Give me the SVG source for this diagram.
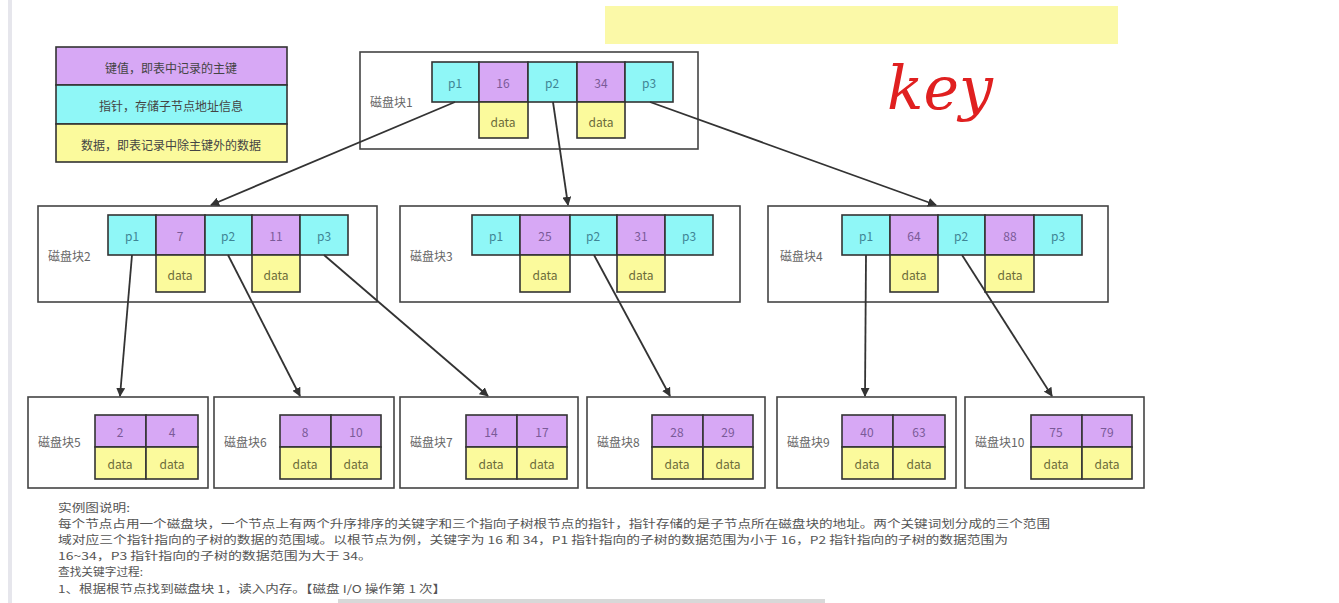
<svg xmlns="http://www.w3.org/2000/svg" width="1339" height="603" viewBox="0 0 1339 603">
<style>
.box{fill:#fff;stroke:#444;stroke-width:1.6}
.p{fill:#8ff7f7;stroke:#333;stroke-width:1.6}
.k{fill:#d7a8f5;stroke:#333;stroke-width:1.6}
.d{fill:#fbfa9c;stroke:#333;stroke-width:1.6}
text{font-family:"Noto Sans CJK SC","Noto Sans",sans-serif;font-size:12px;text-anchor:middle;dominant-baseline:central}
.tp{fill:#3f8595}
.tk{fill:#7a5a98}
.td{fill:#6b6b3a}
.lbl{fill:#666;text-anchor:start;font-size:12px}
.lg{fill:#444;font-size:12px}
.note{fill:#555;text-anchor:start;font-size:11px;dominant-baseline:auto}
.arr{stroke:#333;stroke-width:1.8;fill:none;marker-end:url(#ah)}
</style>
<defs>
<marker id="ah" viewBox="0 0 10 10" refX="9" refY="5" markerWidth="9" markerHeight="9" orient="auto" markerUnits="userSpaceOnUse">
<path d="M0,0 L10,5 L0,10 z" fill="#333"/>
</marker>
</defs>
<rect x="0" y="0" width="1339" height="603" fill="#fff"/>
<rect x="8" y="0" width="4" height="603" fill="#e6e6ec"/>
<rect x="605" y="6" width="513" height="38" fill="#fbf9a8"/>
<text x="940" y="88" style="fill:#e02020;font-family:'DejaVu Serif',serif;font-style:italic;font-size:60px;text-anchor:middle">key</text>

<g id="legend">
<rect x="56" y="47" width="231" height="38" class="k"/>
<rect x="56" y="85" width="231" height="39" class="p"/>
<rect x="56" y="124" width="231" height="38" class="d"/>
<text x="171" y="67" class="lg">键值，即表中记录的主键</text>
<text x="171" y="105" class="lg">指针，存储子节点地址信息</text>
<text x="171" y="144" class="lg">数据，即表记录中除主键外的数据</text>
</g>

<g id="block1">
<rect x="360" y="52" width="338" height="97" class="box"/>
<text x="370" y="101" class="lbl">磁盘块1</text>
<rect x="432" y="62" width="47" height="40" class="p"/><text x="455" y="82" class="tp">p1</text>
<rect x="479" y="62" width="49" height="40" class="k"/><text x="503" y="82" class="tk">16</text>
<rect x="528" y="62" width="49" height="40" class="p"/><text x="552" y="82" class="tp">p2</text>
<rect x="577" y="62" width="48" height="40" class="k"/><text x="601" y="82" class="tk">34</text>
<rect x="625" y="62" width="48" height="40" class="p"/><text x="649" y="82" class="tp">p3</text>
<rect x="479" y="102" width="49" height="36" class="d"/><text x="503" y="121" class="td">data</text>
<rect x="577" y="102" width="48" height="36" class="d"/><text x="601" y="121" class="td">data</text>
</g>

<g id="block2">
<rect x="38" y="206" width="339" height="96" class="box"/>
<text x="48" y="255" class="lbl">磁盘块2</text>
<rect x="108" y="215" width="48" height="40" class="p"/><text x="132" y="235" class="tp">p1</text>
<rect x="156" y="215" width="49" height="40" class="k"/><text x="180" y="235" class="tk">7</text>
<rect x="205" y="215" width="47" height="40" class="p"/><text x="228" y="235" class="tp">p2</text>
<rect x="252" y="215" width="48" height="40" class="k"/><text x="276" y="235" class="tk">11</text>
<rect x="300" y="215" width="48" height="40" class="p"/><text x="324" y="235" class="tp">p3</text>
<rect x="156" y="255" width="49" height="37" class="d"/><text x="180" y="274" class="td">data</text>
<rect x="252" y="255" width="48" height="37" class="d"/><text x="276" y="274" class="td">data</text>
</g>

<g id="block3">
<rect x="400" y="206" width="340" height="96" class="box"/>
<text x="410" y="255" class="lbl">磁盘块3</text>
<rect x="472" y="215" width="48" height="40" class="p"/><text x="496" y="235" class="tp">p1</text>
<rect x="520" y="215" width="50" height="40" class="k"/><text x="545" y="235" class="tk">25</text>
<rect x="570" y="215" width="47" height="40" class="p"/><text x="593" y="235" class="tp">p2</text>
<rect x="617" y="215" width="48" height="40" class="k"/><text x="641" y="235" class="tk">31</text>
<rect x="665" y="215" width="48" height="40" class="p"/><text x="689" y="235" class="tp">p3</text>
<rect x="520" y="255" width="50" height="37" class="d"/><text x="545" y="274" class="td">data</text>
<rect x="617" y="255" width="48" height="37" class="d"/><text x="641" y="274" class="td">data</text>
</g>

<g id="block4">
<rect x="768" y="206" width="340" height="96" class="box"/>
<text x="780" y="255" class="lbl">磁盘块4</text>
<rect x="842" y="215" width="48" height="40" class="p"/><text x="866" y="235" class="tp">p1</text>
<rect x="890" y="215" width="48" height="40" class="k"/><text x="914" y="235" class="tk">64</text>
<rect x="938" y="215" width="47" height="40" class="p"/><text x="961" y="235" class="tp">p2</text>
<rect x="985" y="215" width="49" height="40" class="k"/><text x="1010" y="235" class="tk">88</text>
<rect x="1034" y="215" width="48" height="40" class="p"/><text x="1058" y="235" class="tp">p3</text>
<rect x="890" y="255" width="48" height="37" class="d"/><text x="914" y="274" class="td">data</text>
<rect x="985" y="255" width="49" height="37" class="d"/><text x="1010" y="274" class="td">data</text>
</g>

<g id="block5">
<rect x="28" y="397" width="180" height="91" class="box"/>
<text x="38" y="441" class="lbl">磁盘块5</text>
<rect x="95" y="415" width="51" height="32" class="k"/><text x="120" y="431" class="tk">2</text>
<rect x="146" y="415" width="52" height="32" class="k"/><text x="172" y="431" class="tk">4</text>
<rect x="95" y="447" width="51" height="32" class="d"/><text x="120" y="463" class="td">data</text>
<rect x="146" y="447" width="52" height="32" class="d"/><text x="172" y="463" class="td">data</text>
</g>

<g id="block6">
<rect x="214" y="397" width="180" height="91" class="box"/>
<text x="224" y="441" class="lbl">磁盘块6</text>
<rect x="280" y="415" width="51" height="32" class="k"/><text x="305" y="431" class="tk">8</text>
<rect x="331" y="415" width="50" height="32" class="k"/><text x="356" y="431" class="tk">10</text>
<rect x="280" y="447" width="51" height="32" class="d"/><text x="305" y="463" class="td">data</text>
<rect x="331" y="447" width="50" height="32" class="d"/><text x="356" y="463" class="td">data</text>
</g>

<g id="block7">
<rect x="400" y="397" width="178" height="91" class="box"/>
<text x="410" y="441" class="lbl">磁盘块7</text>
<rect x="466" y="415" width="51" height="32" class="k"/><text x="491" y="431" class="tk">14</text>
<rect x="517" y="415" width="50" height="32" class="k"/><text x="542" y="431" class="tk">17</text>
<rect x="466" y="447" width="51" height="32" class="d"/><text x="491" y="463" class="td">data</text>
<rect x="517" y="447" width="50" height="32" class="d"/><text x="542" y="463" class="td">data</text>
</g>

<g id="block8">
<rect x="587" y="397" width="178" height="91" class="box"/>
<text x="597" y="441" class="lbl">磁盘块8</text>
<rect x="652" y="415" width="51" height="32" class="k"/><text x="677" y="431" class="tk">28</text>
<rect x="703" y="415" width="50" height="32" class="k"/><text x="728" y="431" class="tk">29</text>
<rect x="652" y="447" width="51" height="32" class="d"/><text x="677" y="463" class="td">data</text>
<rect x="703" y="447" width="50" height="32" class="d"/><text x="728" y="463" class="td">data</text>
</g>

<g id="block9">
<rect x="777" y="397" width="179" height="91" class="box"/>
<text x="787" y="441" class="lbl">磁盘块9</text>
<rect x="842" y="415" width="51" height="32" class="k"/><text x="867" y="431" class="tk">40</text>
<rect x="893" y="415" width="52" height="32" class="k"/><text x="919" y="431" class="tk">63</text>
<rect x="842" y="447" width="51" height="32" class="d"/><text x="867" y="463" class="td">data</text>
<rect x="893" y="447" width="52" height="32" class="d"/><text x="919" y="463" class="td">data</text>
</g>

<g id="block10">
<rect x="965" y="397" width="179" height="91" class="box"/>
<text x="975" y="441" class="lbl">磁盘块10</text>
<rect x="1031" y="415" width="51" height="32" class="k"/><text x="1056" y="431" class="tk">75</text>
<rect x="1082" y="415" width="50" height="32" class="k"/><text x="1107" y="431" class="tk">79</text>
<rect x="1031" y="447" width="51" height="32" class="d"/><text x="1056" y="463" class="td">data</text>
<rect x="1082" y="447" width="50" height="32" class="d"/><text x="1107" y="463" class="td">data</text>
</g>

<g id="connectors">
<line x1="455" y1="102" x2="211" y2="205" class="arr"/>
<line x1="553" y1="102" x2="568" y2="205" class="arr"/>
<line x1="650" y1="102" x2="936" y2="205" class="arr"/>
<line x1="132" y1="255" x2="120" y2="396" class="arr"/>
<line x1="228" y1="255" x2="300" y2="396" class="arr"/>
<line x1="324" y1="255" x2="488" y2="396" class="arr"/>
<line x1="594" y1="255" x2="670" y2="396" class="arr"/>
<line x1="866" y1="255" x2="865" y2="396" class="arr"/>
<line x1="962" y1="255" x2="1052" y2="396" class="arr"/>
</g>

<g id="notes">
<text x="58" y="512" class="note" textLength="72" lengthAdjust="spacingAndGlyphs">实例图说明:</text>
<text x="58" y="528" class="note" textLength="992" lengthAdjust="spacingAndGlyphs">每个节点占用一个磁盘块，一个节点上有两个升序排序的关键字和三个指向子树根节点的指针，指针存储的是子节点所在磁盘块的地址。两个关键词划分成的三个范围</text>
<text x="58" y="544" class="note" textLength="950" lengthAdjust="spacingAndGlyphs">域对应三个指针指向的子树的数据的范围域。以根节点为例，关键字为 16 和 34，P1 指针指向的子树的数据范围为小于 16，P2 指针指向的子树的数据范围为</text>
<text x="58" y="560" class="note" textLength="314" lengthAdjust="spacingAndGlyphs">16~34，P3 指针指向的子树的数据范围为大于 34。</text>
<text x="58" y="576" class="note" textLength="85" lengthAdjust="spacingAndGlyphs">查找关键字过程:</text>
<text x="58" y="593" class="note" textLength="388" lengthAdjust="spacingAndGlyphs">1、根据根节点找到磁盘块 1，读入内存。【磁盘 I/O 操作第 1 次】</text>
</g>
<rect x="338" y="599" width="487" height="4" fill="#d8d8d8"/>
</svg>
